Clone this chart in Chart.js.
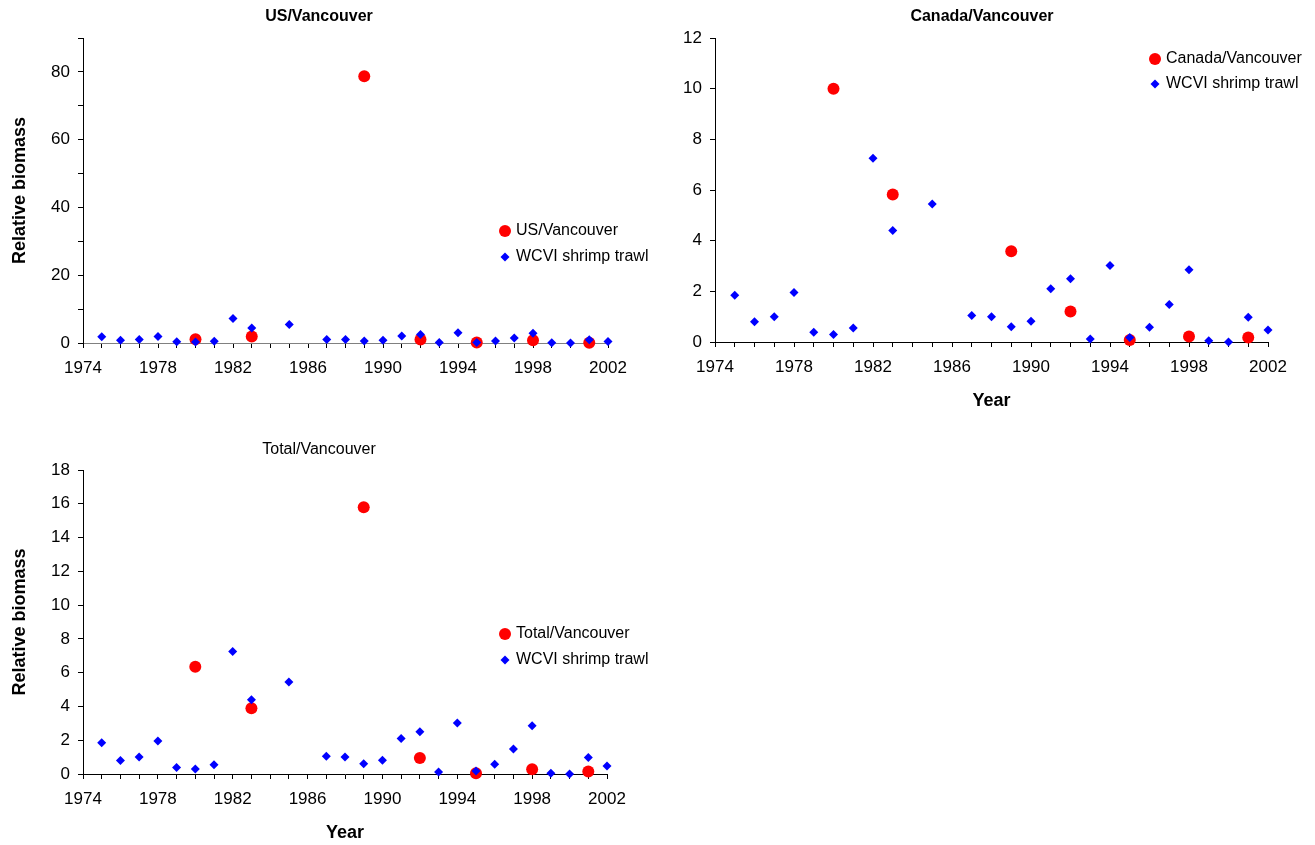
<!DOCTYPE html>
<html>
<head>
<meta charset="utf-8">
<title>Relative biomass - Vancouver</title>
<script src="https://cdn.jsdelivr.net/npm/chart.js@4.4.0/dist/chart.umd.min.js"></script>
<style>
  body { margin: 0; background: #fff; }
  .panel { position: absolute; }
</style>
</head>
<body>
<div class="panel" style="left:0;top:0;width:660px;height:420px"><canvas id="usChart"></canvas></div>
<div class="panel" style="left:660px;top:0;width:655px;height:420px"><canvas id="canadaChart"></canvas></div>
<div class="panel" style="left:0;top:430px;width:660px;height:415px"><canvas id="totalChart"></canvas></div>
<script>
// shrimp trawl index, one value per year
var trawlYears = [1975, 1976, 1977, 1978, 1979, 1980, 1981, 1982, 1983, 1985, 1987, 1988, 1989,
                  1990, 1991, 1992, 1993, 1994, 1995, 1996, 1997, 1998, 1999, 2000, 2001, 2002];
var trawlBiomass = [1.85, 0.8, 1.0, 1.95, 0.38, 0.3, 0.55, 7.25, 4.4, 5.45, 1.05, 1.0, 0.6,
                    0.82, 2.1, 2.5, 0.12, 3.02, 0.18, 0.58, 1.48, 2.85, 0.05, 0.0, 0.98, 0.47];

// triennial survey years
var surveyYears = [1980, 1983, 1989, 1992, 1995, 1998, 2001];
var usBiomass = [1.1, 1.9, 78.7, 1.0, 0.15, 0.8, 0.1];
var canadaBiomass = [10.0, 5.82, 3.58, 1.2, 0.08, 0.22, 0.18];
var totalBiomass = [6.35, 3.9, 15.8, 0.95, 0.05, 0.28, 0.15];

var yearTicks = [1974, 1978, 1982, 1986, 1990, 1994, 1998, 2002];

Chart.defaults.font.family = '"Liberation Sans", Arial, sans-serif';
Chart.defaults.color = '#000';

function toPoints(xs, ys) {
    return xs.map(function (x, i) { return { x: x, y: ys[i] }; });
}

// legend and title drawn inside the plot like the spreadsheet original
var panelText = {
    id: 'panelText',
    afterDraw: function (chart, args, opts) {
        var ctx = chart.ctx;
        ctx.save();
        ctx.fillStyle = '#000';
        ctx.textBaseline = 'middle';
        if (opts.title) {
            ctx.textAlign = 'center';
            ctx.font = (opts.title.bold ? 'bold ' : '') + '16px "Liberation Sans", Arial, sans-serif';
            ctx.fillText(opts.title.text, opts.title.x, opts.title.y);
        }
        ctx.textAlign = 'left';
        ctx.font = '16px "Liberation Sans", Arial, sans-serif';
        chart.data.datasets.forEach(function (ds, i) {
            var x = opts.legend.x, y = opts.legend.y + i * opts.legend.gap;
            ctx.fillStyle = ds.backgroundColor;
            ctx.beginPath();
            if (ds.pointStyle === 'circle') {
                ctx.arc(x, y, ds.pointRadius, 0, Math.PI * 2);
            } else {
                var r = ds.pointRadius;
                ctx.moveTo(x, y - r);
                ctx.lineTo(x + r, y);
                ctx.lineTo(x, y + r);
                ctx.lineTo(x - r, y);
                ctx.closePath();
            }
            ctx.fill();
            ctx.fillStyle = '#000';
            ctx.fillText(ds.label, x + 11, y);
        });
        ctx.restore();
    }
};

function makeChart(id, cfg) {
    var yTitle = {
        display: !!cfg.yTitle,
        text: cfg.yTitle || '',
        font: { size: 18, weight: 'bold' },
        padding: { top: 9, bottom: 0 }
    };
    var xTitle = {
        display: !!cfg.xTitle,
        text: cfg.xTitle || '',
        font: { size: 18, weight: 'bold' },
        padding: { top: 0, bottom: cfg.xTitlePad || 0 }
    };

    return new Chart(document.getElementById(id), {
        type: 'scatter',
        data: {
            datasets: [{
                label: cfg.surveyLabel,
                data: toPoints(surveyYears, cfg.survey),
                pointStyle: 'circle',
                pointRadius: 6,
                pointHoverRadius: 6,
                pointBorderWidth: 0,
                backgroundColor: '#ff0000',
                borderColor: '#ff0000',
                order: 2,
                clip: false
            }, {
                label: 'WCVI shrimp trawl',
                data: toPoints(trawlYears, trawlBiomass),
                pointStyle: 'rectRot',
                pointRadius: 4.5,
                pointHoverRadius: 4.5,
                pointBorderWidth: 0,
                backgroundColor: '#0000ff',
                borderColor: '#0000ff',
                order: 1,
                clip: false
            }]
        },
        options: {
            responsive: true,
            maintainAspectRatio: false,
            animation: false,
            layout: { padding: cfg.padding },
            plugins: {
                legend: { display: false },
                tooltip: { enabled: false },
                panelText: { title: cfg.title, legend: cfg.legend }
            },
            scales: {
                x: {
                    type: 'linear',
                    min: 1974,
                    max: 2002,
                    grid: { drawOnChartArea: false, tickLength: 5, tickColor: '#000' },
                    border: { color: cfg.xLineColor || '#000', width: 1 },
                    ticks: {
                        stepSize: 1,
                        autoSkip: false,
                        maxRotation: 0,
                        padding: 10,
                        font: { size: 17 },
                        callback: function (v) { return yearTicks.indexOf(v) >= 0 ? String(v) : ''; }
                    },
                    title: xTitle,
                    afterFit: function (s) { s.height = cfg.xHeight; }
                },
                y: {
                    min: 0,
                    max: cfg.yMax,
                    grid: { drawOnChartArea: false, tickLength: 5, tickColor: '#000' },
                    border: { color: '#000', width: 1 },
                    ticks: {
                        stepSize: cfg.yStep,
                        padding: 8,
                        font: { size: 17 },
                        callback: function (v) { return v % cfg.yLabelEvery === 0 ? String(v) : ''; }
                    },
                    title: yTitle,
                    afterFit: function (s) { s.width = cfg.yWidth; }
                }
            }
        },
        plugins: [panelText]
    });
}

makeChart('usChart', {
    survey: usBiomass,
    surveyLabel: 'US/Vancouver',
    title: { text: 'US/Vancouver', x: 319, y: 17, bold: true },
    legend: { x: 505, y: 231, gap: 26 },
    yTitle: 'Relative biomass',
    yMax: 90, yStep: 10, yLabelEvery: 20,
    yWidth: 83, xHeight: 77,
    xLineColor: '#808080',
    padding: { top: 38, right: 52, bottom: 0, left: 0 }
});

makeChart('canadaChart', {
    survey: canadaBiomass,
    surveyLabel: 'Canada/Vancouver',
    title: { text: 'Canada/Vancouver', x: 322, y: 17, bold: true },
    legend: { x: 495, y: 59, gap: 25 },
    xTitle: 'Year', xTitlePad: 8,
    yMax: 12, yStep: 2, yLabelEvery: 2,
    yWidth: 55, xHeight: 78,
    padding: { top: 38, right: 47, bottom: 0, left: 0 }
});

makeChart('totalChart', {
    survey: totalBiomass,
    surveyLabel: 'Total/Vancouver',
    title: { text: 'Total/Vancouver', x: 319, y: 20, bold: false },
    legend: { x: 505, y: 204, gap: 26 },
    yTitle: 'Relative biomass',
    xTitle: 'Year', xTitlePad: 1,
    yMax: 18, yStep: 2, yLabelEvery: 2,
    yWidth: 83, xHeight: 71,
    padding: { top: 40, right: 53, bottom: 0, left: 0 }
});
</script>
</body>
</html>
